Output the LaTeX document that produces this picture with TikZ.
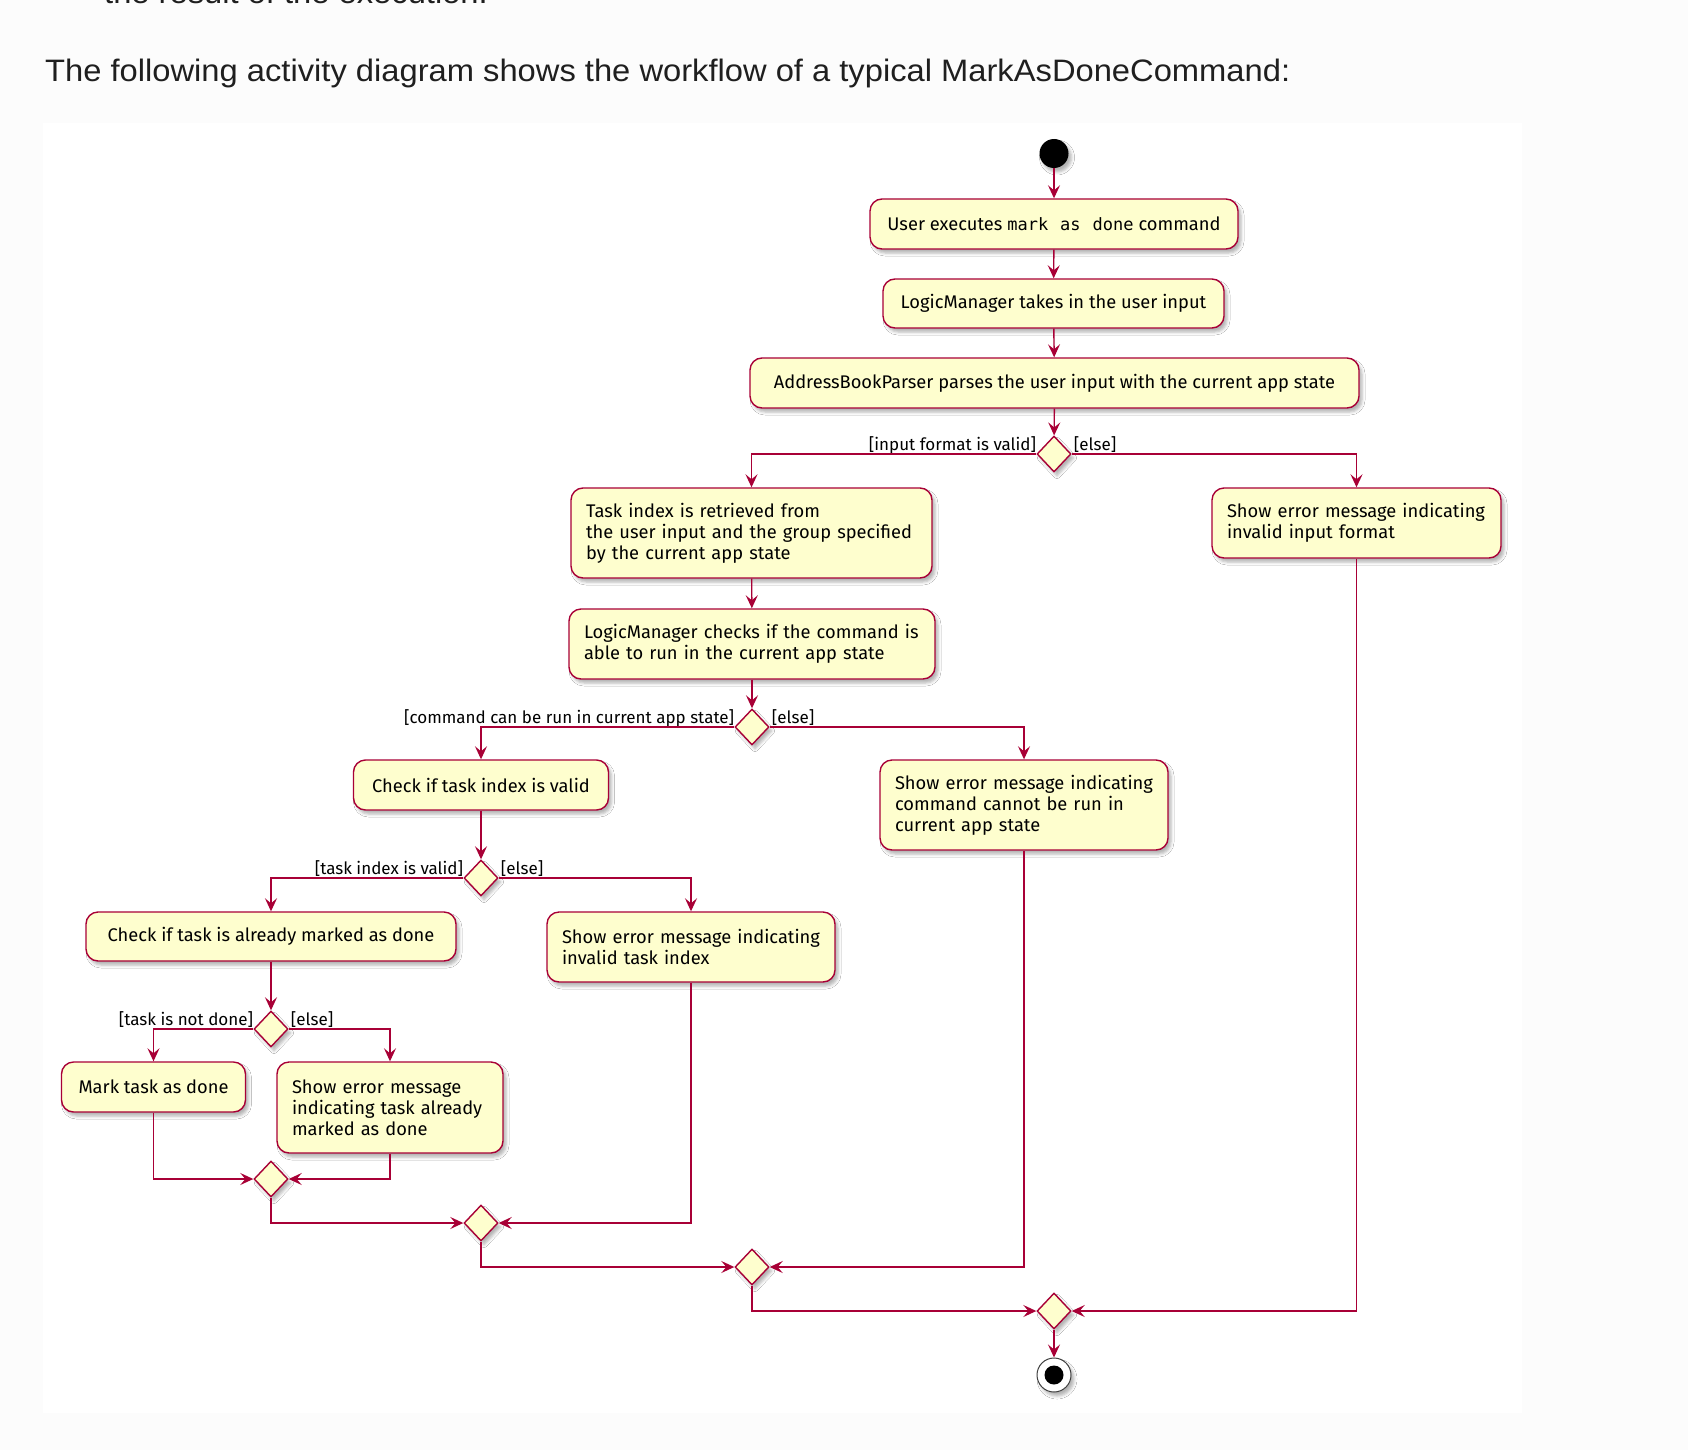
\documentclass[tikz,border=0pt]{standalone}
\usepackage{fontspec}
\usetikzlibrary{arrows.meta,shapes.geometric,shadows.blur}
\newfontfamily\boxfont{Fira Sans}
\newfontfamily\titlefont[FakeStretch=1.055]{Liberation Sans}
\newfontfamily\codefont{DejaVu Sans Mono}
\definecolor{umlred}{HTML}{A80036}
\definecolor{umlfill}{HTML}{FEFECE}
\definecolor{pagebg}{HTML}{FCFCFC}
\definecolor{titlecol}{HTML}{1F1F1F}
\tikzset{
  shad/.style={blur shadow={shadow xshift=3pt,shadow yshift=-4pt,shadow opacity=30,shadow blur radius=3pt}},
  actbase/.style={draw=umlred,fill=umlfill,line width=1.4pt,rounded corners=12pt,shad,
    inner xsep=15pt,inner ysep=0pt,
    font=\boxfont\fontsize{18.3}{21}\selectfont},
  act/.style={actbase,align=left},
  actone/.style={actbase,align=center,inner xsep=0pt},
  dec/.style={diamond,draw=umlred,fill=umlfill,line width=1.4pt,inner sep=0pt,
    minimum width=34pt,minimum height=36pt,shad},
  flow/.style={draw=umlred,line width=1.4pt,-{Stealth[length=13pt,width=12pt,inset=5pt]}},
  lbl/.style={inner sep=0pt,font=\boxfont\fontsize{17}{20}\selectfont},
}
\begin{document}
\begin{tikzpicture}[x=1pt,y=-1pt]
\useasboundingbox (0,0) rectangle (1688,1450);
\fill[pagebg] (0,0) rectangle (1688,1450);
\fill[white] (43,123) rectangle (1522,1413);

\node[anchor=base west,inner sep=0pt,text=titlecol,font=\titlefont\fontsize{31}{36}\selectfont] (top) at (104,4) {the result of the execution.};
\node[anchor=base west,inner sep=0pt,text=titlecol,font=\titlefont\fontsize{31}{36}\selectfont] (title) at (45,82) {The following activity diagram shows the workflow of a typical MarkAsDoneCommand:};

% start
\node[circle,fill=black,minimum size=29pt,inner sep=0pt,shad] (start) at (1054,153.5) {};

% activities
\node[actone,minimum width=368pt,minimum height=50pt] (b1) at (1054,224) {User executes {\codefont\fontsize{17}{21}\selectfont mark\kern12pt{}as\kern12pt{}done} command};
\node[actone,minimum width=341pt,minimum height=49pt] (b2) at (1053.5,303.5) {LogicManager takes in the user input};
\node[actone,minimum width=609pt,minimum height=50pt] (b3) at (1054.5,383) {AddressBookParser parses the user input with the current app state};
\node[dec] (d1) at (1054,454) {};
\node[act,text width=331pt,minimum height=90pt] (b4) at (751.5,533) {Task index is retrieved from\\the user input and the group specified\\by the current app state};
\node[act,text width=259pt,minimum height=70pt] (e1) at (1356.5,523) {Show error message indicating\\invalid input format};
\node[act,text width=336pt,minimum height=70pt] (b5) at (752,644) {LogicManager checks if the command is\\able to run in the current app state};
\node[dec] (d2) at (752,727) {};
\node[actone,minimum width=255pt,minimum height=50pt] (b6) at (481,785) {Check if task index is valid};
\node[act,text width=258pt,minimum height=90pt] (e2) at (1024,805) {Show error message indicating\\command cannot be run in\\current app state};
\node[dec] (d3) at (481,878) {};
\node[actone,minimum width=370pt,minimum height=49pt] (b7) at (271,936.5) {Check if task is already marked as done};
\node[act,text width=258pt,minimum height=70pt] (e3) at (691,947) {Show error message indicating\\invalid task index};
\node[dec] (d4) at (271,1029) {};
\node[actone,minimum width=184pt,minimum height=50pt] (b8) at (153.5,1087) {Mark task as done};
\node[act,text width=196pt,minimum height=91pt] (e4) at (390,1107.5) {Show error message\\indicating task already\\marked as done};

% merges
\node[dec] (m4) at (271,1179) {};
\node[dec] (m3) at (481,1223) {};
\node[dec] (m2) at (752,1267) {};
\node[dec] (m1) at (1054,1311) {};

% end
\node[circle,draw=black!75,line width=1pt,fill=white,minimum size=34pt,inner sep=0pt,shad] (end) at (1054,1375) {};
\fill[black] (end.center) circle (9.5);

% guard labels
\node[lbl,anchor=base east] (l1a) at ([yshift=4pt]d1.west) {[input format is valid]};
\node[lbl,anchor=base west] (l1b) at ([xshift=2pt,yshift=4pt]d1.east) {[else]};
\node[lbl,anchor=base east] (l2a) at ([yshift=4pt]d2.west) {[command can be run in current app state]};
\node[lbl,anchor=base west] (l2b) at ([xshift=2pt,yshift=4pt]d2.east) {[else]};
\node[lbl,anchor=base east] (l3a) at ([yshift=4pt]d3.west) {[task index is valid]};
\node[lbl,anchor=base west] (l3b) at ([xshift=2pt,yshift=4pt]d3.east) {[else]};
\node[lbl,anchor=base east] (l4a) at ([yshift=4pt]d4.west) {[task is not done]};
\node[lbl,anchor=base west] (l4b) at ([xshift=2pt,yshift=4pt]d4.east) {[else]};

% connectors
\draw[flow] (start) -- (b1);
\draw[flow] (b1) -- (b2);
\draw[flow] (b2) -- (b3);
\draw[flow] (b3) -- (d1);
\draw[flow] (d1.west) -| (b4);
\draw[flow] (d1.east) -| (e1);
\draw[flow] (b4) -- (b5);
\draw[flow] (b5) -- (d2);
\draw[flow] (d2.west) -| (b6);
\draw[flow] (d2.east) -| (e2);
\draw[flow] (b6) -- (d3);
\draw[flow] (d3.west) -| (b7);
\draw[flow] (d3.east) -| (e3);
\draw[flow] (b7) -- (d4);
\draw[flow] (d4.west) -| (b8);
\draw[flow] (d4.east) -| (e4);
\draw[flow] (b8.south) |- (m4.west);
\draw[flow] (e4.south) |- (m4.east);
\draw[flow] (m4.south) |- (m3.west);
\draw[flow] (e3.south) |- (m3.east);
\draw[flow] (m3.south) |- (m2.west);
\draw[flow] (e2.south) |- (m2.east);
\draw[flow] (m2.south) |- (m1.west);
\draw[flow] (e1.south) |- (m1.east);
\draw[flow] (m1) -- (end);
\end{tikzpicture}
\end{document}
